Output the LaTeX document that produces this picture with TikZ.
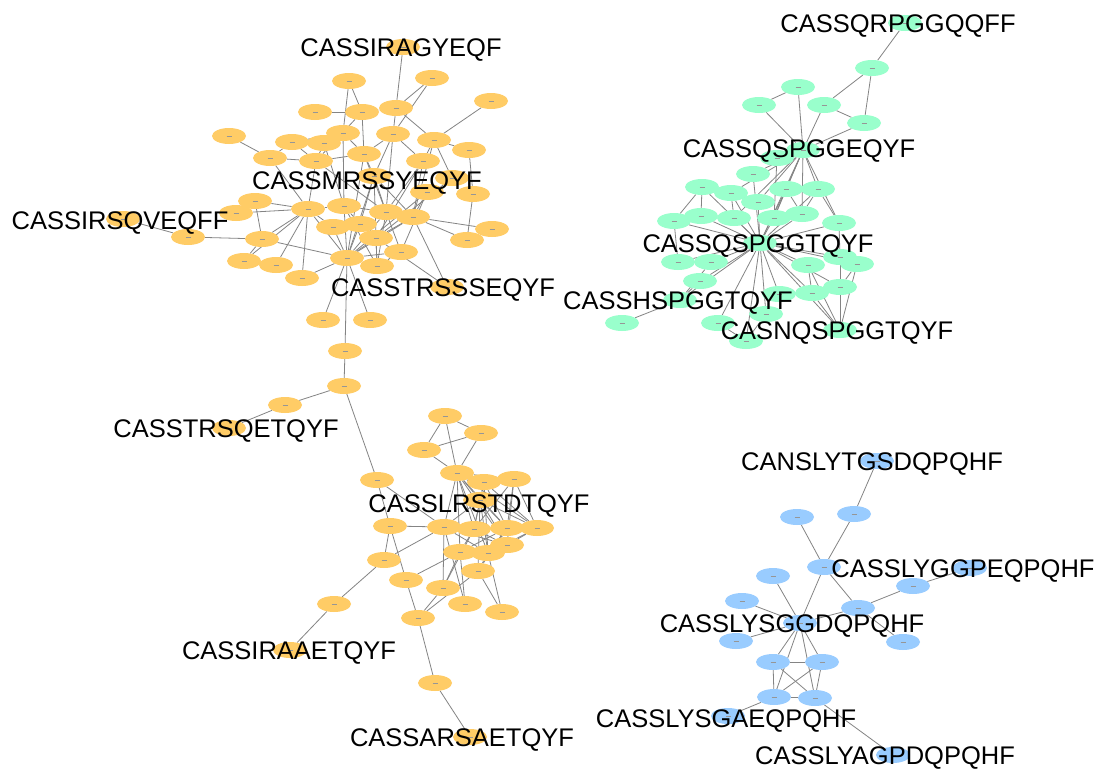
\documentclass[tikz,border=0pt]{standalone}
\usepackage{fontspec}
\setmainfont{Liberation Sans}
\usetikzlibrary{shapes.geometric}
\definecolor{nodeorange}{RGB}{255,204,102}
\definecolor{nodegreen}{RGB}{153,255,204}
\definecolor{nodeblue}{RGB}{153,204,255}
\definecolor{edgegray}{RGB}{132,132,132}
\definecolor{dashgray}{RGB}{150,150,150}
\pgfdeclarelayer{edges}
\pgfdeclarelayer{paper}
\pgfsetlayers{paper,edges,main}
\tikzset{
  vtx/.style={ellipse, minimum width=34pt, minimum height=16pt, inner sep=0pt, draw=none,
    path picture={\draw[dashgray, line width=0.4pt]
      ([xshift=-2.5pt]path picture bounding box.center) -- ([xshift=2.5pt]path picture bounding box.center);}},
  onode/.style={vtx, fill=nodeorange},
  gnode/.style={vtx, fill=nodegreen},
  bnode/.style={vtx, fill=nodeblue},
  link/.style={draw=edgegray, line width=0.8pt},
  seq/.style={font=\fontsize{25.5}{25.5}\selectfont, text=black, inner sep=0pt,
    text height=18.2pt, text depth=0pt, anchor=center}
}
\begin{document}
\begin{tikzpicture}[x=1pt, y=-1pt]
\begin{pgfonlayer}{paper}
\fill[white] (0,0) rectangle (1101,771);
\end{pgfonlayer}
\useasboundingbox (0,0) rectangle (1101,771);

% orange component
\foreach \n/\x/\y in {
  lIRAG/403/47, o1/349/81, o2/432/78, o3/491/101, o4/315/112, o5/362/112, o6/396/108,
  o7/343/133, o8/393/134, o9/434/140, o10/292/142, o11/324/143, o12/469/150, o13/270/158,
  o14/316/161, o15/364/154, o16/423/161, o17/229/136, lMRSS/374/176, o18/427/192,
  o18b/452/178, o19/473/194, o20/255/201, o21/236/213, o22/308/209, o23/344/206,
  o24/386/212, o25/413/217, o26/333/227, o27/360/224, o28/492/229, o29/262/239,
  o30/376/238, o31/467/240, o32/401/252, o33/244/261, o34/276/265, o35/347/258,
  o36/377/266, o37/302/278, lIRSQ/123/219, o40/188/237, lTRSSS/447/287, o38/323/320,
  o39/370/320, o41/345/351, o42/344/386, o43/285/405, lTRSQ/229/428,
  o44/445/416, o45/481/433, o46/424/450, o47/377/480, o48/457/473, o49/484/482,
  o50/514/479, lLRST/480/500, o51/390/526, o52/444/527, o53/474/529, o54/507/528,
  o55/537/528, o56/460/552, o57/488/553, o58/507/545, o59/384/560, o60/478/571,
  o61/406/580, o62/443/588, o63/465/604, o64/502/612, o65/418/618, o66/334/604,
  lIRAA/290/650, o67/435/683, lARSA/470/737}
  \node[onode] (\n) at (\x,\y) {};

% green component
\foreach \n/\x/\y in {
  lQRPG/905/23, g1/872/68, g2/798/87, g3/759/105, g4/824/105, g5/864/123, lGEQ/803/150,
  g6/777/158, g7/753/174, g8/702/187, g9/731/193, g10/786/189, g11/818/189, g12/758/202,
  g13/674/221, g14/701/216, g15/734/218, g16/774/218, g17/802/214, g18/839/223,
  lGTQ/760/243, g19/678/262, g20/711/262, g21/808/265, g22/840/257, g23/857/264,
  g24/700/281, g25/840/287, g26/812/293, g32/779/294, lHSP/680/300, g28/622/323,
  g29/766/314, g30/718/323, g31/746/341, lNQSP/840/330}
  \node[gnode] (\n) at (\x,\y) {};

% blue component
\foreach \n/\x/\y in {
  lGS/877/461, b1/854/514, b2/797/517, b3/824/567, lGGP/970/568, b4/913/586,
  b5/773/576, b6/742/601, b7/858/608, lGGD/800/623, b8/736/641, b9/903/642,
  b10/773/662, b11/822/662, b12/774/697, b13/815/698, lGA/728/716, lAGP/893/755}
  \node[bnode] (\n) at (\x,\y) {};

\begin{pgfonlayer}{edges}
\foreach \a/\b in {
  lIRAG/o6, o1/o5, o1/o7, o2/o6, o2/o8, o3/o9, o4/o5, o5/o6, o5/o15, o5/o14, o6/o8, o6/o9,
  o7/o10, o7/o11, o7/o15, o7/o23, o8/o15, o8/o16, o8/lMRSS, o8/o24, o9/o16, o9/o25, o9/o12,
  o10/o13, o10/o14, o10/o11, o11/o14, o11/o23, o12/o19, o13/o17, o13/o22, o13/o14,
  o14/o15, o14/o22, o14/o24, o15/o24, o15/lMRSS, o15/o35, o16/o25, o16/o24, o16/o30,
  lMRSS/o35, lMRSS/o24, lMRSS/o27, lMRSS/o25, lMRSS/o36, o18/o25, o18/o32, o18/o35,
  o18b/o9, o18b/o30, o19/o31, o20/o29, o20/o22, o21/o22, o22/o23, o22/o29, o22/o35,
  o22/o33, o22/o26, o22/o37, o23/o24, o23/o27, o23/o35, o23/o36, o24/o25, o24/o35,
  o24/o36, o24/o32, o25/o31, o25/o28, o25/o30, o25/o35, o25/lTRSSS, o26/o35, o26/o27,
  o27/o35, o27/o30, o29/o40, o29/o33, o29/o35, o30/o35, o30/o36, o30/lTRSSS, o32/o35,
  o32/o36, o34/o22, o35/o36, o35/o37, o35/o38, o35/o39, o35/o41, lIRSQ/o40,
  o41/o42, o42/o43, o43/lTRSQ, o42/o47,
  o44/o45, o44/o46, o44/o48, o45/o46, o45/o48, o46/o48, o48/o49, o48/o50, o48/o52,
  o48/o53, o48/o54, o48/o55, o48/lLRST, o48/o56, o48/o57, o48/o58, o49/o50, o49/o53,
  o49/o54, o49/o55, o49/o57, o50/o54, o50/o55, o50/o58, o50/o53, lLRST/o52, lLRST/o53,
  lLRST/o54, lLRST/o55, lLRST/o57, lLRST/o58, lLRST/o60, o52/o57, o52/o58, o53/o58,
  o53/o56, o54/o56, o54/o57, o55/o57, o55/o58, o56/o58, o47/o51, o47/o52, o51/o52,
  o51/o59, o51/o61, o59/o52, o59/o66, o61/o56, o61/o65, o62/o52, o62/o56, o62/o65,
  o62/o53, o63/o56, o63/o52, o64/o60, o64/o57, o60/o57, o60/o65, o60/o54, o65/o67,
  o67/lARSA, o66/lIRAA}
  \draw[link] (\a) -- (\b);
\foreach \a/\b in {
  lQRPG/g1, g1/g4, g1/g5, g2/g3, g2/lGEQ, g3/lGEQ, g4/lGEQ, g4/g5, g5/lGEQ, lGEQ/g7,
  lGEQ/g10, lGEQ/g11, lGEQ/g12, lGEQ/g16, lGEQ/g17, lGEQ/g9, lGEQ/g15, lGEQ/lGTQ,
  lGEQ/g18, g6/g16, g7/lGTQ, g8/g13, g8/g14, g8/lGTQ, g9/g12, g9/lGTQ, g9/g15, g10/g17,
  g10/g16, g10/lGTQ, g11/g17, g11/g18, g11/lGTQ, g12/lGTQ, g13/g14, g13/g19, g13/lGTQ,
  g14/lGTQ, g15/lGTQ, g16/lGTQ, g17/lGTQ, g18/lGTQ, g18/g22, lGTQ/g19, lGTQ/g20,
  lGTQ/g21, lGTQ/g22, lGTQ/g23, lGTQ/g24, lGTQ/g25, lGTQ/g26, lGTQ/g29, lGTQ/g30,
  lGTQ/g31, lGTQ/g32, lGTQ/lHSP, lGTQ/lNQSP, g21/g26, g21/lNQSP, g22/g25, g23/g25,
  g23/lNQSP, g25/lNQSP, g26/lNQSP, g24/lHSP, g20/lHSP, g28/lHSP, g30/g31, g29/g31}
  \draw[link] (\a) -- (\b);
\foreach \a/\b in {
  lGS/b1, b1/b3, b3/lGGD, b2/b3, b3/b7, b7/b4, b4/lGGP, b7/lGGD, b7/b9, b5/lGGD,
  b6/lGGD, b8/lGGD, lGGD/b10, lGGD/b11, lGGD/b12, lGGD/b13, b10/b11, b10/b12, b10/b13,
  b11/b12, b11/b13, b12/b13, b12/lGA, b13/lAGP}
  \draw[link] (\a) -- (\b);
\end{pgfonlayer}

% sequence labels
\foreach \n/\x/\y/\t in {
  lIRAG/401/47/CASSIRAGYEQF, lMRSS/367/180/CASSMRSSYEQYF, lIRSQ/120/220/CASSIRSQVEQFF,
  lTRSSS/443/287/CASSTRSSSEQYF, lTRSQ/226/428/CASSTRSQETQYF, lLRST/479/503/CASSLRSTDTQYF,
  lIRAA/289/650/CASSIRAAETQYF, lARSA/462/737/CASSARSAETQYF,
  lQRPG/898/23/CASSQRPGGQQFF, lGEQ/799/148/CASSQSPGGEQYF, lGTQ/758/243/CASSQSPGGTQYF,
  lHSP/678/300/CASSHSPGGTQYF, lNQSP/837/330/CASNQSPGGTQYF,
  lGS/872/461/CANSLYTGSDQPQHF, lGGP/963/568/CASSLYGGPEQPQHF, lGGD/792/623/CASSLYSGGDQPQHF,
  lGA/726/718/CASSLYSGAEQPQHF, lAGP/885/755/CASSLYAGPDQPQHF}
  \node[seq] (t\n) at (\x,\y) {\t};
\end{tikzpicture}
\end{document}
